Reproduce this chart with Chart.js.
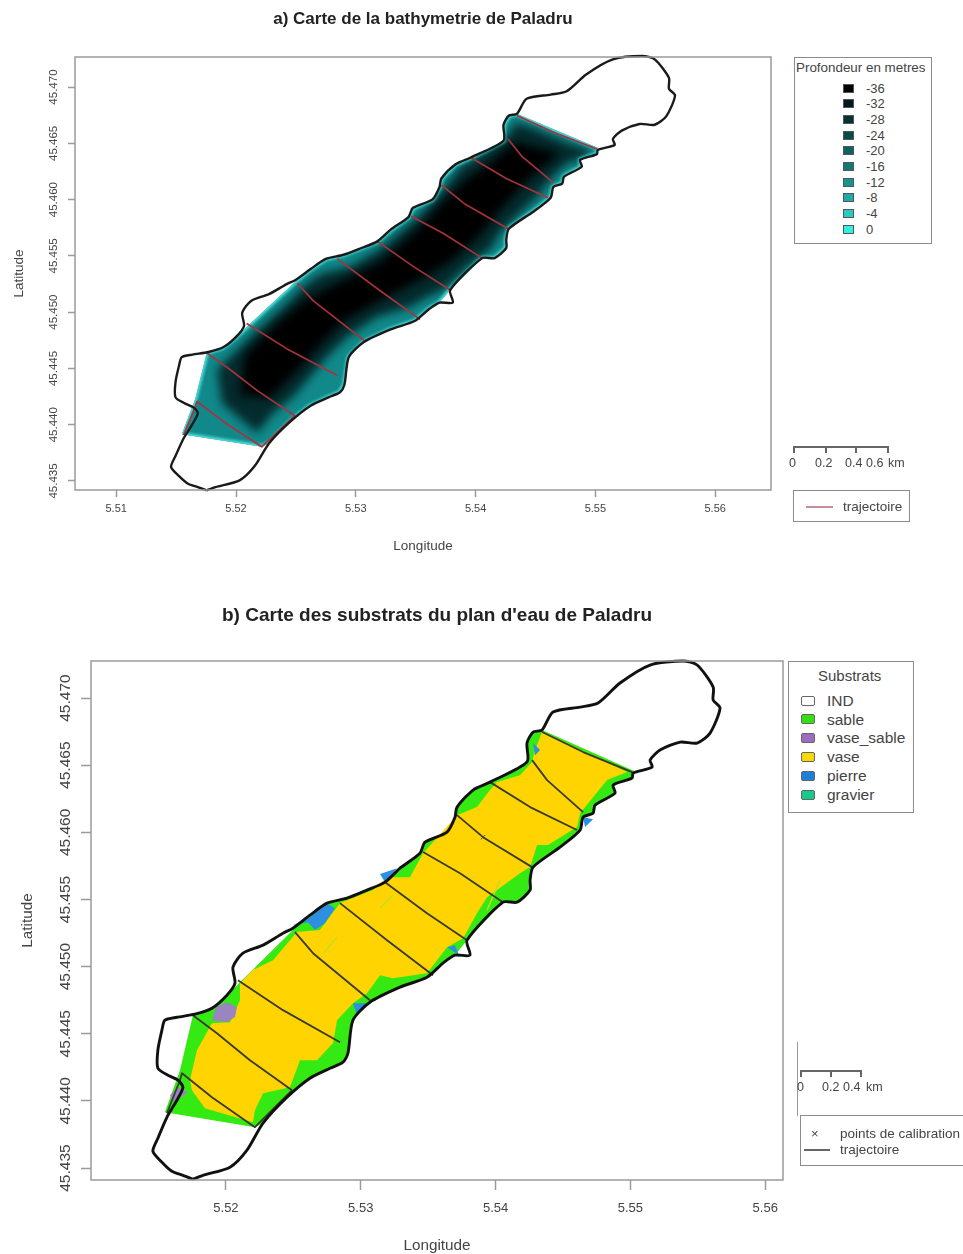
<!DOCTYPE html>
<html>
<head>
<meta charset="utf-8">
<title>Paladru</title>
<script src="https://cdn.jsdelivr.net/npm/chart.js@4/dist/chart.umd.min.js"></script>
<style>
html, body { margin: 0; padding: 0; background: #fff; }
#page { position: relative; width: 963px; height: 1254px; overflow: hidden; font-family: "Liberation Sans", Arial, sans-serif; color: #444; filter: blur(0.45px); }
#page canvas { position: absolute; left: 0; }
.box { position: absolute; border: 1.5px solid #8c8c8c; box-sizing: border-box; background: #fff; }
.txt { position: absolute; white-space: nowrap; line-height: 1; }
.sw { position: absolute; box-sizing: border-box; }
.ln { position: absolute; }
</style>
</head>
<body>
<div id="page">
  <canvas id="bathy" width="963" height="560" style="top:0"></canvas>
  <canvas id="substrats" width="963" height="664" style="top:590px"></canvas>
</div>
<script>
// lake contour
var contourLon = [5.51755,5.51681,5.51599,5.51525,5.51458,5.51495,5.51562,5.51636,5.51681,5.51644,5.5157,5.51495,5.51495,5.51525,5.51547,5.51636,5.5177,5.51896,5.52007,5.52067,5.52052,5.52126,5.52275,5.52423,5.52497,5.52623,5.52749,5.52898,5.53046,5.5318,5.53291,5.53439,5.53477,5.5364,5.53699,5.53714,5.53833,5.53959,5.54233,5.54233,5.54278,5.54345,5.54426,5.54627,5.5476,5.54923,5.55146,5.55391,5.55495,5.55614,5.55614,5.55665,5.55591,5.55495,5.55369,5.5522,5.55146,5.55161,5.5502,5.55013,5.54872,5.54886,5.54738,5.54723,5.54649,5.54627,5.54478,5.54278,5.54256,5.54256,5.54159,5.54055,5.53788,5.5381,5.53699,5.5361,5.53491,5.53291,5.53068,5.52942,5.52905,5.52868,5.52772,5.52623,5.52453,5.52275,5.52156,5.5203,5.51829,5.51755];
var contourLat = [45.43417,45.43446,45.43476,45.43543,45.43625,45.43722,45.43878,45.44005,45.44102,45.44154,45.44191,45.44243,45.44378,45.44527,45.44601,45.44623,45.44646,45.4469,45.44787,45.44877,45.44996,45.451,45.4516,45.45249,45.45286,45.45383,45.45473,45.4551,45.4557,45.45629,45.45733,45.45845,45.45927,45.46002,45.46113,45.46188,45.46315,45.46374,45.46523,45.46665,45.46747,45.46762,45.46896,45.46933,45.46963,45.47112,45.47246,45.47276,45.47246,45.47082,45.46985,45.46925,45.46739,45.46665,45.46672,45.46613,45.46538,45.46486,45.46441,45.46404,45.46352,45.46292,45.46203,45.46143,45.46113,45.46017,45.4589,45.45741,45.45644,45.4557,45.4548,45.4548,45.45197,45.45085,45.45085,45.45026,45.44921,45.44847,45.44735,45.44601,45.44355,45.44288,45.44243,45.44169,45.44027,45.43834,45.43633,45.43506,45.43446,45.43417];

// surveyed water area
var waterLon = [5.51755,5.51659,5.51547,5.52215,5.52275,5.52453,5.52623,5.52772,5.52868,5.52905,5.52942,5.53068,5.53291,5.53491,5.5361,5.53699,5.53788,5.54055,5.54159,5.54256,5.54256,5.54278,5.54478,5.54627,5.54649,5.54723,5.54738,5.54886,5.54872,5.55013,5.55028,5.54345,5.54278,5.54233,5.54233,5.53959,5.53833,5.53714,5.53699,5.5364,5.53477,5.53439,5.53291,5.5318,5.52898,5.52749,5.52623,5.52497,5.52104,5.52007,5.51896,5.51755];
var waterLat = [45.44638,45.44229,45.43916,45.43804,45.43834,45.44027,45.44169,45.44243,45.44288,45.44355,45.44601,45.44735,45.44847,45.44921,45.45026,45.45085,45.45197,45.4548,45.4548,45.4557,45.45644,45.45741,45.4589,45.46017,45.46113,45.46143,45.46203,45.46292,45.46352,45.46404,45.46456,45.46762,45.46747,45.46665,45.46523,45.46374,45.46315,45.46188,45.46113,45.46002,45.45927,45.45845,45.45733,45.45629,45.4551,45.45473,45.45383,45.45272,45.44884,45.44787,45.4469,45.44638];

// deep zones of the bathymetry map
var deepLon = [5.51883,5.51841,5.52117,5.52392,5.52593,5.52726,5.52952,5.53227,5.53536,5.53728,5.5387,5.54062,5.54287,5.54329,5.54479,5.54763,5.54955,5.5493,5.54763,5.54621,5.54512,5.54371,5.54204,5.5412,5.53928,5.53728,5.53594,5.53452,5.53177,5.52927,5.5276,5.52618,5.52476,5.52309,5.52175,5.51883];
var deepLat = [45.44193,45.44486,45.44779,45.45046,45.45259,45.45348,45.45401,45.45579,45.45863,45.46085,45.46289,45.46414,45.46591,45.46689,45.46636,45.46503,45.4644,45.46378,45.46325,45.46174,45.46023,45.45881,45.45703,45.45552,45.45401,45.45197,45.45135,45.45046,45.44957,45.44779,45.44602,45.44424,45.44246,45.44104,45.43926,45.44193];
var coreLon = [5.52033,5.52075,5.52326,5.52576,5.52868,5.53202,5.53494,5.53703,5.53911,5.5412,5.54329,5.54704,5.54454,5.54204,5.54037,5.53786,5.53536,5.53244,5.5291,5.52701,5.52518,5.52284,5.52033];
var coreLat = [45.44264,45.44619,45.44886,45.45108,45.45268,45.45445,45.45712,45.45952,45.46174,45.46325,45.46511,45.46414,45.46192,45.45907,45.45685,45.45445,45.45286,45.45126,45.4493,45.44708,45.44486,45.44237,45.44264];

// trajectory, null breaks between transects
var trajLon = [5.51562,5.51659,5.51674,5.51896,5.52215,5.5249,5.52178,5.51933,5.51755,null,5.52089,5.52423,5.52846,null,5.52512,5.52646,5.53068,null,5.52846,5.53195,5.53536,null,5.5318,5.53491,5.53788,null,5.53462,5.53736,5.54055,null,5.53714,5.53907,5.54271,null,5.53959,5.54256,5.54604,null,5.54271,5.54382,5.54649,null,5.54345,5.54649,5.55013];
var trajLat = [45.43908,45.44154,45.44206,45.44027,45.43804,45.4408,45.44303,45.44504,45.44638,null,45.44899,45.44676,45.44437,null,45.45257,45.451,45.4475,null,45.45473,45.45197,45.44936,null,45.45629,45.45398,45.45197,null,45.45853,45.45696,45.4548,null,45.46128,45.45964,45.45741,null,45.46374,45.46188,45.46017,null,45.46538,45.46389,45.46151,null,45.46747,45.46598,45.46449];

// substrate patches
var vaseLon = [5.51748,5.51844,5.522,5.52215,5.52275,5.52475,5.52549,5.52675,5.52794,5.52824,5.52942,5.53046,5.53143,5.53239,5.53491,5.5364,5.53759,5.53862,5.53937,5.54181,5.54256,5.54308,5.54389,5.54604,5.54627,5.54723,5.54827,5.54975,5.54345,5.54293,5.54271,5.54181,5.54011,5.53959,5.53862,5.53714,5.53536,5.53462,5.53365,5.53195,5.53091,5.52846,5.52697,5.52527,5.52349,5.522,5.52104,5.52104,5.5203,5.51896,5.51785,5.51733];
var vaseLat = [45.4408,45.43945,45.43841,45.43931,45.44057,45.44102,45.44303,45.44303,45.4443,45.44601,45.44728,45.44802,45.44936,45.44914,45.44951,45.45145,45.45212,45.45398,45.45517,45.45696,45.45741,45.45905,45.45905,45.46039,45.46143,45.46262,45.46389,45.46449,45.46747,45.46613,45.46523,45.46426,45.46374,45.46315,45.46188,45.46128,45.45927,45.45845,45.45666,45.45666,45.4557,45.45473,45.45272,45.45257,45.45048,45.44974,45.44877,45.4475,45.44586,45.44579,45.44378,45.44154];
var pierreLon = [5.52497,5.52623,5.52749,5.52809,5.52735,5.5266,5.52608,null,5.52942,5.53046,5.52972,null,5.51926,5.52044,5.51985,null,5.53143,5.53269,5.5318,null,5.5364,5.53699,5.53729,null,5.54278,5.5433,5.54293,null,5.54649,5.54723,5.54664];
var pierreLat = [45.45309,45.45368,45.45473,45.45435,45.45324,45.45272,45.45331,null,45.44728,45.44728,45.44638,null,45.44668,45.44728,45.44653,null,45.45689,45.45733,45.45629,null,45.45145,45.4516,45.45085,null,45.46665,45.46613,45.46575,null,45.46113,45.46098,45.46039];
var vaseSableLon = [5.52007,5.52082,5.52067,5.52007,5.51896,5.51926,null,5.51644,5.51718,5.51614,5.51585];
var vaseSableLat = [45.44735,45.44698,45.44624,45.44586,45.44601,45.44698,null,45.44102,45.44065,45.4399,45.44043];
// faint sand streaks inside the mud
var streakLon = [5.5272,5.52824,null,5.53143,5.53239,null,5.53937,5.54033];
var streakLat = [45.451,45.45219,null,45.45435,45.45532,null,45.4542,45.45644];

// calibration points
var calibLon = [5.53907];
var calibLat = [45.45964];

// ticks
var lonTicksA = [5.51, 5.52, 5.53, 5.54, 5.55, 5.56];
var lonTicksB = [5.52, 5.53, 5.54, 5.55, 5.56];
var latTicks = [45.435, 45.44, 45.445, 45.45, 45.455, 45.46, 45.465, 45.47];

// legends
var depthLabels = ['-36', '-32', '-28', '-24', '-20', '-16', '-12', '-8', '-4', '0'];
var depthColors = ['#000000', '#03191a', '#06332f', '#0a4b48', '#0f625e', '#127a74', '#179490', '#1fa9a8', '#2bc8c4', '#30f0e0'];
var substratLabels = ['IND', 'sable', 'vase_sable', 'vase', 'pierre', 'gravier'];
var substratColors = ['#ffffff', '#33e014', '#9b6cc0', '#f5d90a', '#1c7fd8', '#17c98a'];

var FONT = '"Liberation Sans", Arial, sans-serif';
var GREY = '#444444';

function pts(lon, lat) {
    return lon.map(function (x, i) { return { x: x, y: lat[i] }; });
}

function poly(lon, lat, color, extra) {
    return Object.assign({
        data: pts(lon, lat),
        showLine: true,
        fill: 'shape',
        backgroundColor: color,
        borderWidth: 0,
        pointRadius: 0,
        clip: false
    }, extra || {});
}

function path(lon, lat, color, width, extra) {
    return Object.assign({
        data: pts(lon, lat),
        showLine: true,
        fill: false,
        borderColor: color,
        borderWidth: width,
        borderJoinStyle: 'round',
        pointRadius: 0,
        clip: false
    }, extra || {});
}

// box() of the R plot + blurred depth layers
var frame = {
    id: 'frame',
    afterDraw: function (chart) {
        var a = chart.chartArea, ctx = chart.ctx;
        ctx.save();
        ctx.strokeStyle = '#9a9a9a';
        ctx.lineWidth = 1.5;
        ctx.strokeRect(a.left, a.top, a.right - a.left, a.bottom - a.top);
        ctx.restore();
    }
};

var softLayers = {
    id: 'softLayers',
    afterDatasetDraw: function (chart, args) {
        var sets = chart.data.datasets, ctx = chart.ctx;
        var cur = sets[args.index], next = sets[args.index - 1];
        if (cur.clipBase) {
            // keep the gradient inside the water area
            var points = chart.getDatasetMeta(args.index).data;
            ctx.save();
            ctx.beginPath();
            points.forEach(function (p, i) {
                if (i === 0) ctx.moveTo(p.x, p.y); else ctx.lineTo(p.x, p.y);
            });
            ctx.closePath();
            ctx.clip();
        }
        if (next && next.blur) {
            ctx.filter = 'blur(' + next.blur + 'px)';
        } else if (cur.blur) {
            ctx.filter = 'none';
            ctx.restore();
        }
    }
};

function axes(lonTicks, cfg) {
    return {
        x: {
            type: 'linear', min: cfg.xMin, max: cfg.xMax,
            afterBuildTicks: function (axis) { axis.ticks = lonTicks.map(function (v) { return { value: v }; }); },
            afterFit: function (axis) { axis.height = cfg.xHeight; },
            grid: { drawOnChartArea: false, tickLength: cfg.tickLength, tickColor: '#9a9a9a', tickWidth: 1.5 },
            border: { display: false },
            ticks: {
                autoSkip: false, maxRotation: 0, padding: cfg.xPad, color: GREY,
                font: { family: FONT, size: cfg.xTickSize },
                callback: function (v) { return v.toFixed(2); }
            },
            title: { display: true, text: 'Longitude', color: GREY, font: { family: FONT, size: cfg.titleSize }, padding: { top: 0, bottom: cfg.xTitlePad } }
        },
        y: {
            type: 'linear', min: cfg.yMin, max: cfg.yMax,
            afterBuildTicks: function (axis) { axis.ticks = latTicks.map(function (v) { return { value: v }; }); },
            afterFit: function (axis) { axis.width = cfg.yWidth; },
            grid: { drawOnChartArea: false, tickLength: cfg.tickLength, tickColor: '#9a9a9a', tickWidth: 1.5 },
            border: { display: false },
            ticks: {
                autoSkip: false, minRotation: 90, maxRotation: 90, crossAlign: 'center', padding: cfg.yPad, color: GREY,
                font: { family: FONT, size: cfg.yTickSize },
                callback: function (v) { return v.toFixed(3); }
            },
            title: { display: true, text: 'Latitude', color: GREY, font: { family: FONT, size: cfg.titleSize }, padding: { top: cfg.yTitlePad, bottom: 0 } }
        }
    };
}

function baseOptions(title, padRight, scales) {
    return {
        responsive: false,
        animation: false,
        devicePixelRatio: 1,
        layout: { padding: { left: 0, right: padRight, top: 0, bottom: 0 } },
        plugins: {
            legend: { display: false },
            tooltip: { enabled: false },
            title: Object.assign({ display: true, fullSize: false, color: '#222' }, title)
        },
        scales: scales
    };
}

new Chart(document.getElementById('bathy'), {
    type: 'scatter',
    data: {
        datasets: [
            path(contourLon, contourLat, '#1a1a1a', 2.4, { tension: 0.25 }),
            path(trajLon, trajLat, '#a8323c', 1.7),
            path(waterLon, waterLat, '#53e6e2', 4, { blur: 1.5 }),
            poly(coreLon, coreLat, '#000000', { blur: 5 }),
            poly(deepLon, deepLat, '#042a2c', { blur: 5 }),
            poly(waterLon, waterLat, '#11898a', { clipBase: true })
        ]
    },
    options: baseOptions(
        { text: 'a) Carte de la bathymetrie de Paladru', font: { family: FONT, size: 17, weight: 'bold' }, padding: { top: 9, bottom: 27.6 } },
        192,
        axes(lonTicksA, {
            xMin: 5.50656, xMax: 5.56466, yMin: 45.4342, yMax: 45.47267,
            xHeight: 70, yWidth: 75, tickLength: 7, xPad: 5, yPad: -3,
            xTickSize: 11, yTickSize: 11.5, titleSize: 13.5, xTitlePad: 5.5, yTitlePad: 11
        })
    ),
    plugins: [softLayers, frame]
});

new Chart(document.getElementById('substrats'), {
    type: 'scatter',
    data: {
        datasets: [
            path(contourLon, contourLat, '#111111', 2.9, { tension: 0.25 }),
            { data: pts(calibLon, calibLat), pointStyle: 'crossRot', pointRadius: 3, borderColor: '#444', borderWidth: 1, clip: false },
            path(trajLon, trajLat, '#3a3a2c', 1.8),
            poly(vaseSableLon, vaseSableLat, '#9b85c0'),
            poly(pierreLon, pierreLat, '#2e8fe0'),
            path(streakLon, streakLat, '#c4dc24', 1.5),
            poly(vaseLon, vaseLat, '#ffd400'),
            poly(waterLon, waterLat, '#35ea12')
        ]
    },
    options: baseOptions(
        { text: "b) Carte des substrats du plan d'eau de Paladru", font: { family: FONT, size: 19, weight: 'bold' }, padding: { top: 14.6, bottom: 33.6 } },
        180,
        axes(lonTicksB, {
            xMin: 5.50999, xMax: 5.56132, yMin: 45.43411, yMax: 45.47276,
            xHeight: 74, yWidth: 91, tickLength: 10, xPad: 11, yPad: -8.5,
            xTickSize: 13, yTickSize: 15.5, titleSize: 15.3, xTitlePad: -1.2, yTitlePad: 18.5
        })
    ),
    plugins: [frame]
});

// legends and scale bars
var page = document.getElementById('page');

function el(cls, left, top, w, h, css) {
    var d = document.createElement('div');
    d.className = cls;
    d.style.left = left + 'px';
    d.style.top = top + 'px';
    if (w !== null) d.style.width = w + 'px';
    if (h !== null) d.style.height = h + 'px';
    if (css) d.style.cssText += css;
    page.appendChild(d);
    return d;
}

// text centred vertically on y
function txt(s, left, y, size, css) {
    var d = el('txt', left, y - size / 2, null, null, 'font-size:' + size + 'px;' + (css || ''));
    d.textContent = s;
    return d;
}

function scaleBar(x0, x1, y, tickX, labels, size) {
    el('ln', x0, y, x1 - x0 + 1, 1.5, 'background:#666');
    tickX.forEach(function (x) { el('ln', x, y, 1.5, 7, 'background:#666'); });
    labels.forEach(function (l) { txt(l[0], l[1], y + 17, size); });
}

el('box', 794, 57, 138, 187);
txt('Profondeur en metres', 796, 68, 13.4);
depthLabels.forEach(function (lab, i) {
    var y = 88 + i * 15.67;
    el('sw', 843, y - 4.5, 11, 9, 'background:' + depthColors[i] + ';border:1px solid #555');
    txt(lab, 866, y, 13);
});
scaleBar(793, 887, 446, [793, 825, 855, 887], [['0', 789], ['0.2', 815], ['0.4', 845], ['0.6', 866], ['km', 888]], 12.5);
el('box', 793, 490, 117, 32);
el('ln', 806, 506, 27, 1.5, 'background:#c58f99');
txt('trajectoire', 843, 506.5, 13.5);

el('box', 788, 661, 126, 152);
txt('Substrats', 818, 675.5, 15);
substratLabels.forEach(function (lab, i) {
    var y = 700 + i * 18.8;
    el('sw', 801, y - 4.5, 14, 10, 'background:' + substratColors[i] + ';border:1.5px solid #666;border-radius:2px');
    txt(lab, 827, y + 0.5, 15.5);
});
el('ln', 797, 1042, 1, 74, 'background:#9a9a9a');
scaleBar(800, 860, 1070, [800, 830, 860], [['0', 797], ['0.2', 822], ['0.4', 843], ['km', 866]], 12.5);
el('box', 800, 1115, 180, 51);
txt('\u00d7', 811, 1133, 13);
el('ln', 804, 1149, 26, 1.5, 'background:#666');
txt('points de calibration', 840, 1134, 13.5);
txt('trajectoire', 840, 1150, 13.5);
</script>
</body>
</html>
